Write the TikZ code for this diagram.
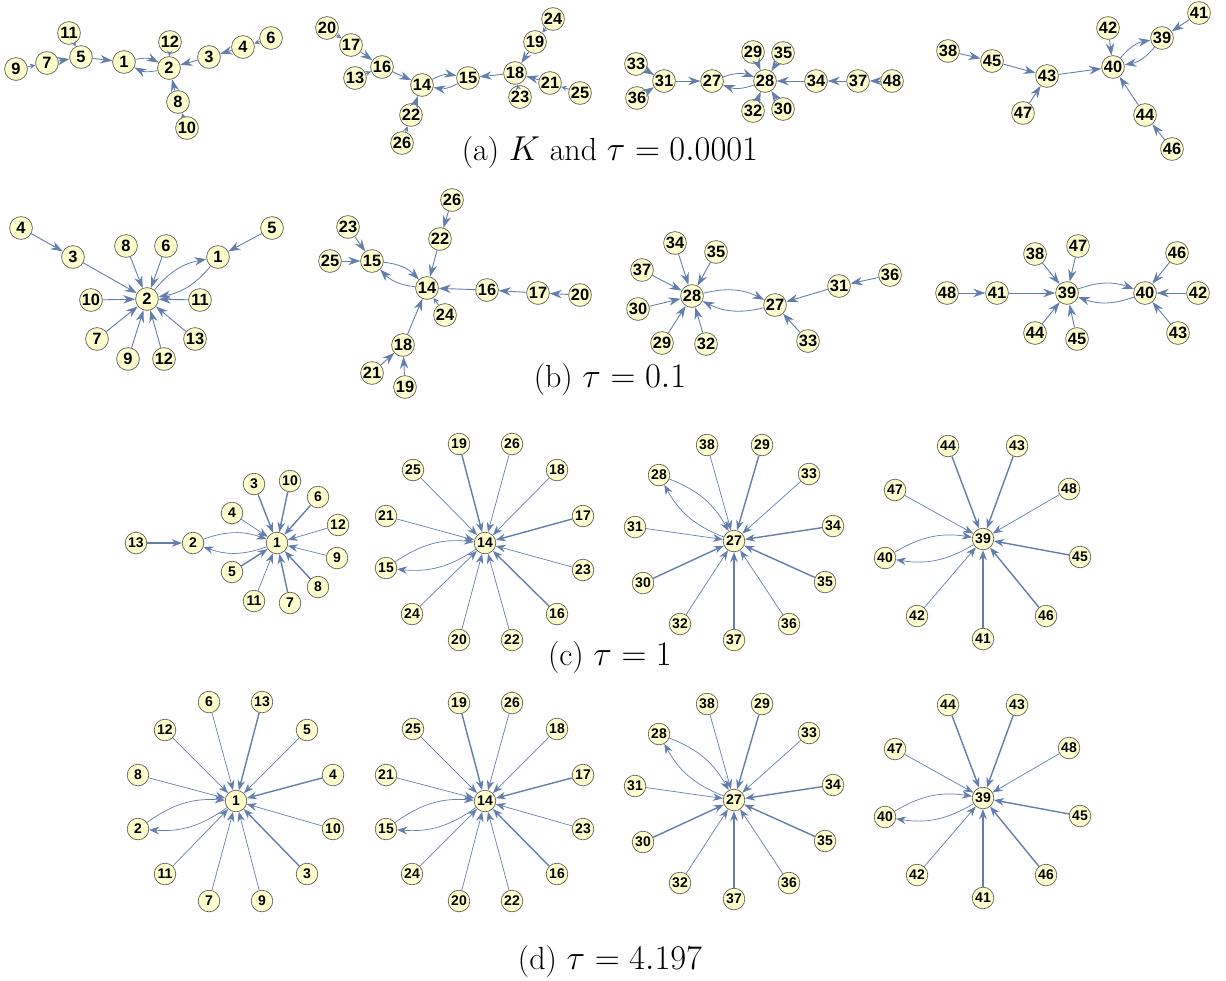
\documentclass[tikz,border=0pt]{standalone}
\usepackage{fontspec}
\newfontfamily\netfont{Liberation Sans}
\usetikzlibrary{arrows.meta}
\definecolor{NetFill}{RGB}{255,255,206}
\definecolor{NetRim}{RGB}{96,96,88}
\definecolor{NetEdge}{RGB}{98,126,174}
\tikzset{
  net/vertex/.style={
    circle,
    draw=NetRim,
    line width=0.35pt,
    fill=NetFill,
    inner sep=0pt,
    minimum size=11.4pt,
    font=\netfont\bfseries\fontsize{8.2}{8}\selectfont
  },
  net/smallvertex/.style={
    net/vertex,
    minimum size=10.8pt,
    font=\netfont\bfseries\fontsize{7}{7}\selectfont
  },
  net/edge/.style={-{Stealth[length=6pt,width=4.2pt]}, line width=0.45pt, draw=NetEdge},
  net/stub/.style={-{Stealth[length=2.8pt,width=2.6pt]}, line width=0.45pt, draw=NetEdge},
  net/thin/.style={-{Stealth[length=5pt,width=3.8pt]}, line width=0.35pt, draw=NetEdge},
  net/heavy/.style={net/thin, line width=0.7pt},
  net/pair/.style={net/edge, line width=0.4pt, bend left=20},
  net/smallpair/.style={net/thin, bend left=20},
  net/caption/.style={font=\fontsize{16}{19}\selectfont, align=center}
}

\begin{document}
\begin{tikzpicture}[x=0.5pt,y=-0.5pt]
  \useasboundingbox (0,0) rectangle (1226,980);

  % (a) K and tau = 0.0001
  \node[net/vertex] (a1) at (124,62) {1};
  \node[net/vertex] (a2) at (169,68) {2};
  \node[net/vertex] (a3) at (209,57) {3};
  \node[net/vertex] (a4) at (243,47) {4};
  \node[net/vertex] (a5) at (81,57) {5};
  \node[net/vertex] (a6) at (271,38) {6};
  \node[net/vertex] (a7) at (47,63) {7};
  \node[net/vertex] (a8) at (178,102) {8};
  \node[net/vertex] (a9) at (16,69) {9};
  \node[net/vertex] (a10) at (187,128) {10};
  \node[net/vertex] (a11) at (69,33) {11};
  \node[net/vertex] (a12) at (170,42) {12};
  \draw[net/stub] (a9) -- (a7);
  \draw[net/edge] (a7) -- (a5);
  \draw[net/stub] (a11) -- (a5);
  \draw[net/edge] (a5) -- (a1);
  \draw[net/pair] (a1) to (a2);
  \draw[net/pair] (a2) to (a1);
  \draw[net/stub] (a12) -- (a2);
  \draw[net/edge] (a3) -- (a2);
  \draw[net/edge] (a4) -- (a3);
  \draw[net/stub] (a6) -- (a4);
  \draw[net/edge] (a8) -- (a2);
  \draw[net/stub] (a10) -- (a8);

  \node[net/vertex] (a13) at (355,78) {13};
  \node[net/vertex] (a14) at (422,85) {14};
  \node[net/vertex] (a15) at (468,78) {15};
  \node[net/vertex] (a16) at (382,67) {16};
  \node[net/vertex] (a17) at (351,45) {17};
  \node[net/vertex] (a18) at (515,73) {18};
  \node[net/vertex] (a19) at (535,42) {19};
  \node[net/vertex] (a20) at (327,28) {20};
  \node[net/vertex] (a21) at (550,83) {21};
  \node[net/vertex] (a22) at (411,115) {22};
  \node[net/vertex] (a23) at (520,97) {23};
  \node[net/vertex] (a24) at (553,19) {24};
  \node[net/vertex] (a25) at (580,93) {25};
  \node[net/vertex] (a26) at (402,143) {26};
  \draw[net/stub] (a20) -- (a17);
  \draw[net/edge] (a17) -- (a16);
  \draw[net/stub] (a13) -- (a16);
  \draw[net/edge] (a16) -- (a14);
  \draw[net/pair] (a14) to (a15);
  \draw[net/pair] (a15) to (a14);
  \draw[net/edge] (a18) -- (a15);
  \draw[net/edge] (a19) -- (a18);
  \draw[net/stub] (a24) -- (a19);
  \draw[net/edge] (a21) -- (a18);
  \draw[net/stub] (a25) -- (a21);
  \draw[net/stub] (a23) -- (a18);
  \draw[net/edge] (a22) -- (a14);
  \draw[net/stub] (a26) -- (a22);

  \node[net/vertex] (a27) at (712,81) {27};
  \node[net/vertex] (a28) at (765,81) {28};
  \node[net/vertex] (a29) at (753,52) {29};
  \node[net/vertex] (a30) at (783,109) {30};
  \node[net/vertex] (a31) at (664,81) {31};
  \node[net/vertex] (a32) at (753,111) {32};
  \node[net/vertex] (a33) at (636,64) {33};
  \node[net/vertex] (a34) at (816,81) {34};
  \node[net/vertex] (a35) at (783,53) {35};
  \node[net/vertex] (a36) at (637,98) {36};
  \node[net/vertex] (a37) at (858,81) {37};
  \node[net/vertex] (a48) at (892,81) {48};
  \draw[net/edge] (a33) -- (a31);
  \draw[net/edge] (a36) -- (a31);
  \draw[net/edge] (a31) -- (a27);
  \draw[net/pair] (a27) to (a28);
  \draw[net/pair] (a28) to (a27);
  \foreach \s in {29,35,32,30,34}
    \draw[net/edge] (a\s) -- (a28);
  \draw[net/edge] (a37) -- (a34);
  \draw[net/edge] (a48) -- (a37);

  \node[net/vertex] (a38) at (948,51) {38};
  \node[net/vertex] (a39) at (1162,38) {39};
  \node[net/vertex] (a40) at (1113,67) {40};
  \node[net/vertex] (a41) at (1199,13) {41};
  \node[net/vertex] (a42) at (1108,28) {42};
  \node[net/vertex] (a43) at (1047,76) {43};
  \node[net/vertex] (a44) at (1145,115) {44};
  \node[net/vertex] (a45) at (992,61) {45};
  \node[net/vertex] (a46) at (1172,149) {46};
  \node[net/vertex] (a47) at (1023,113) {47};
  \draw[net/edge] (a41) -- (a39);
  \draw[net/pair] (a39) to (a40);
  \draw[net/pair] (a40) to (a39);
  \draw[net/edge] (a42) -- (a40);
  \draw[net/edge] (a38) -- (a45);
  \draw[net/edge] (a45) -- (a43);
  \draw[net/edge] (a47) -- (a43);
  \draw[net/edge] (a43) -- (a40);
  \draw[net/edge] (a44) -- (a40);
  \draw[net/edge] (a46) -- (a44);

  \node[net/caption] (capa) at (610,153) {(a) $K$ and $\tau = 0.0001$};

  % (b) tau = 0.1
  \node[net/vertex] (b1) at (218,257) {1};
  \node[net/vertex] (b2) at (147,299) {2};
  \node[net/vertex] (b3) at (73,257) {3};
  \node[net/vertex] (b4) at (21,228) {4};
  \node[net/vertex] (b5) at (272,228) {5};
  \node[net/vertex] (b6) at (166,246) {6};
  \node[net/vertex] (b7) at (97,339) {7};
  \node[net/vertex] (b8) at (126,246) {8};
  \node[net/vertex] (b9) at (128,359) {9};
  \node[net/vertex] (b10) at (91,300) {10};
  \node[net/vertex] (b11) at (200,300) {11};
  \node[net/vertex] (b12) at (164,359) {12};
  \node[net/vertex] (b13) at (195,339) {13};
  \draw[net/edge] (b4) -- (b3);
  \foreach \s in {3,8,6,10,11,7,9,12,13}
    \draw[net/edge] (b\s) -- (b2);
  \draw[net/pair] (b2) to (b1);
  \draw[net/pair] (b1) to (b2);
  \draw[net/edge] (b5) -- (b1);

  \node[net/vertex] (b14) at (427,288) {14};
  \node[net/vertex] (b15) at (372,261) {15};
  \node[net/vertex] (b16) at (487,290) {16};
  \node[net/vertex] (b17) at (538,293) {17};
  \node[net/vertex] (b18) at (403,345) {18};
  \node[net/vertex] (b19) at (405,387) {19};
  \node[net/vertex] (b20) at (580,295) {20};
  \node[net/vertex] (b21) at (372,373) {21};
  \node[net/vertex] (b22) at (440,239) {22};
  \node[net/vertex] (b23) at (348,227) {23};
  \node[net/vertex] (b24) at (445,315) {24};
  \node[net/vertex] (b25) at (330,261) {25};
  \node[net/vertex] (b26) at (452,200) {26};
  \draw[net/edge] (b26) -- (b22);
  \draw[net/edge] (b22) -- (b14);
  \draw[net/edge] (b23) -- (b15);
  \draw[net/edge] (b25) -- (b15);
  \draw[net/pair] (b15) to (b14);
  \draw[net/pair] (b14) to (b15);
  \draw[net/edge] (b16) -- (b14);
  \draw[net/edge] (b17) -- (b16);
  \draw[net/edge] (b20) -- (b17);
  \draw[net/stub] (b24) -- (b14);
  \draw[net/edge] (b18) -- (b14);
  \draw[net/edge] (b21) -- (b18);
  \draw[net/edge] (b19) -- (b18);

  \node[net/vertex] (b27) at (775,305) {27};
  \node[net/vertex] (b28) at (692,296) {28};
  \node[net/vertex] (b29) at (662,343) {29};
  \node[net/vertex] (b30) at (638,309) {30};
  \node[net/vertex] (b31) at (839,286) {31};
  \node[net/vertex] (b32) at (706,344) {32};
  \node[net/vertex] (b33) at (808,341) {33};
  \node[net/vertex] (b34) at (675,243) {34};
  \node[net/vertex] (b35) at (716,252) {35};
  \node[net/vertex] (b36) at (890,275) {36};
  \node[net/vertex] (b37) at (642,270) {37};
  \foreach \s in {34,35,37,30,29,32}
    \draw[net/edge] (b\s) -- (b28);
  \draw[net/pair] (b28) to (b27);
  \draw[net/pair] (b27) to (b28);
  \draw[net/edge] (b31) -- (b27);
  \draw[net/edge] (b36) -- (b31);
  \draw[net/edge] (b33) -- (b27);

  \node[net/vertex] (b38) at (1035,254) {38};
  \node[net/vertex] (b39) at (1067,293) {39};
  \node[net/vertex] (b40) at (1145,293) {40};
  \node[net/vertex] (b41) at (997,293) {41};
  \node[net/vertex] (b42) at (1198,293) {42};
  \node[net/vertex] (b43) at (1178,333) {43};
  \node[net/vertex] (b44) at (1035,333) {44};
  \node[net/vertex] (b45) at (1077,339) {45};
  \node[net/vertex] (b46) at (1177,253) {46};
  \node[net/vertex] (b47) at (1078,246) {47};
  \node[net/vertex] (b48) at (947,293) {48};
  \draw[net/edge] (b48) -- (b41);
  \foreach \s in {41,38,47,44,45}
    \draw[net/edge] (b\s) -- (b39);
  \draw[net/pair] (b39) to (b40);
  \draw[net/pair] (b40) to (b39);
  \foreach \s in {46,42,43}
    \draw[net/edge] (b\s) -- (b40);

  \node[net/caption] (capb) at (610,380) {(b) $\tau = 0.1$};

  % (c) tau = 1
  \node[net/smallvertex] (c1) at (277,543) {1};
  \node[net/smallvertex] (c2) at (193,543) {2};
  \node[net/smallvertex] (c3) at (254,484) {3};
  \node[net/smallvertex] (c4) at (232,513) {4};
  \node[net/smallvertex] (c5) at (232,572) {5};
  \node[net/smallvertex] (c6) at (318,497) {6};
  \node[net/smallvertex] (c7) at (290,603) {7};
  \node[net/smallvertex] (c8) at (318,587) {8};
  \node[net/smallvertex] (c9) at (337,558) {9};
  \node[net/smallvertex] (c10) at (290,481) {10};
  \node[net/smallvertex] (c11) at (254,601) {11};
  \node[net/smallvertex] (c12) at (338,525) {12};
  \node[net/smallvertex] (c13) at (136,543) {13};
  \draw[net/heavy] (c13) -- (c2);
  \draw[net/smallpair] (c2) to (c1);
  \draw[net/smallpair] (c1) to (c2);
  \foreach \s in {3,10,6,8,5,7}
    \draw[net/heavy] (c\s) -- (c1);
  \foreach \s in {4,12,9,11}
    \draw[net/thin] (c\s) -- (c1);

  \node[net/smallvertex] (c14) at (485,543) {14};
  \node[net/smallvertex] (c15) at (386,568) {15};
  \node[net/smallvertex] (c16) at (557,614) {16};
  \node[net/smallvertex] (c17) at (583,516) {17};
  \node[net/smallvertex] (c18) at (557,470) {18};
  \node[net/smallvertex] (c19) at (459,444) {19};
  \node[net/smallvertex] (c20) at (459,640) {20};
  \node[net/smallvertex] (c21) at (386,516) {21};
  \node[net/smallvertex] (c22) at (512,640) {22};
  \node[net/smallvertex] (c23) at (583,570) {23};
  \node[net/smallvertex] (c24) at (412,614) {24};
  \node[net/smallvertex] (c25) at (413,470) {25};
  \node[net/smallvertex] (c26) at (512,444) {26};
  \foreach \s in {19,17,16}
    \draw[net/heavy] (c\s) -- (c14);
  \foreach \s in {26,25,18,21,23,24,20,22}
    \draw[net/thin] (c\s) -- (c14);
  \draw[net/smallpair] (c15) to (c14);
  \draw[net/smallpair] (c14) to (c15);

  \node[net/smallvertex] (c27) at (734,541) {27};
  \node[net/smallvertex] (c28) at (659,475) {28};
  \node[net/smallvertex] (c29) at (762,445) {29};
  \node[net/smallvertex] (c30) at (643,583) {30};
  \node[net/smallvertex] (c31) at (635,527) {31};
  \node[net/smallvertex] (c32) at (680,624) {32};
  \node[net/smallvertex] (c33) at (809,474) {33};
  \node[net/smallvertex] (c34) at (833,526) {34};
  \node[net/smallvertex] (c35) at (825,582) {35};
  \node[net/smallvertex] (c36) at (789,624) {36};
  \node[net/smallvertex] (c37) at (734,640) {37};
  \node[net/smallvertex] (c38) at (707,445) {38};
  \foreach \s in {29,34,30,35,37}
    \draw[net/heavy] (c\s) -- (c27);
  \foreach \s in {38,33,31,32,36}
    \draw[net/thin] (c\s) -- (c27);
  \draw[net/smallpair] (c28) to (c27);
  \draw[net/smallpair] (c27) to (c28);

  \node[net/smallvertex] (c39) at (983,539) {39};
  \node[net/smallvertex] (c40) at (885,558) {40};
  \node[net/smallvertex] (c41) at (983,639) {41};
  \node[net/smallvertex] (c42) at (917,616) {42};
  \node[net/smallvertex] (c43) at (1017,446) {43};
  \node[net/smallvertex] (c44) at (948,446) {44};
  \node[net/smallvertex] (c45) at (1080,557) {45};
  \node[net/smallvertex] (c46) at (1046,616) {46};
  \node[net/smallvertex] (c47) at (895,490) {47};
  \node[net/smallvertex] (c48) at (1069,489) {48};
  \foreach \s in {44,43,45,46,41}
    \draw[net/heavy] (c\s) -- (c39);
  \foreach \s in {47,48,42}
    \draw[net/thin] (c\s) -- (c39);
  \draw[net/smallpair] (c40) to (c39);
  \draw[net/smallpair] (c39) to (c40);

  \node[net/caption] (capc) at (610,658) {(c) $\tau = 1$};

  % (d) tau = 4.197
  \node[net/smallvertex] (d1) at (236,801) {1};
  \node[net/smallvertex] (d2) at (138,829) {2};
  \node[net/smallvertex] (d3) at (307,874) {3};
  \node[net/smallvertex] (d4) at (333,775) {4};
  \node[net/smallvertex] (d5) at (307,730) {5};
  \node[net/smallvertex] (d6) at (209,702) {6};
  \node[net/smallvertex] (d7) at (209,901) {7};
  \node[net/smallvertex] (d8) at (138,775) {8};
  \node[net/smallvertex] (d9) at (262,901) {9};
  \node[net/smallvertex] (d10) at (333,829) {10};
  \node[net/smallvertex] (d11) at (165,874) {11};
  \node[net/smallvertex] (d12) at (165,730) {12};
  \node[net/smallvertex] (d13) at (262,702) {13};
  \foreach \s in {3,13,4}
    \draw[net/heavy] (d\s) -- (d1);
  \foreach \s in {6,12,5,8,10,11,7,9}
    \draw[net/thin] (d\s) -- (d1);
  \draw[net/smallpair] (d2) to (d1);
  \draw[net/smallpair] (d1) to (d2);

  \node[net/smallvertex] (d14) at (485,801) {14};
  \node[net/smallvertex] (d15) at (386,829) {15};
  \node[net/smallvertex] (d16) at (557,874) {16};
  \node[net/smallvertex] (d17) at (583,775) {17};
  \node[net/smallvertex] (d18) at (557,729) {18};
  \node[net/smallvertex] (d19) at (459,703) {19};
  \node[net/smallvertex] (d20) at (459,901) {20};
  \node[net/smallvertex] (d21) at (386,775) {21};
  \node[net/smallvertex] (d22) at (512,901) {22};
  \node[net/smallvertex] (d23) at (583,829) {23};
  \node[net/smallvertex] (d24) at (412,874) {24};
  \node[net/smallvertex] (d25) at (413,729) {25};
  \node[net/smallvertex] (d26) at (512,703) {26};
  \foreach \s in {19,17,16}
    \draw[net/heavy] (d\s) -- (d14);
  \foreach \s in {26,25,18,21,23,24,20,22}
    \draw[net/thin] (d\s) -- (d14);
  \draw[net/smallpair] (d15) to (d14);
  \draw[net/smallpair] (d14) to (d15);

  \node[net/smallvertex] (d27) at (734,800) {27};
  \node[net/smallvertex] (d28) at (659,734) {28};
  \node[net/smallvertex] (d29) at (762,704) {29};
  \node[net/smallvertex] (d30) at (643,842) {30};
  \node[net/smallvertex] (d31) at (635,786) {31};
  \node[net/smallvertex] (d32) at (680,883) {32};
  \node[net/smallvertex] (d33) at (809,733) {33};
  \node[net/smallvertex] (d34) at (833,785) {34};
  \node[net/smallvertex] (d35) at (825,841) {35};
  \node[net/smallvertex] (d36) at (789,883) {36};
  \node[net/smallvertex] (d37) at (734,899) {37};
  \node[net/smallvertex] (d38) at (707,704) {38};
  \foreach \s in {29,34,30,35,37}
    \draw[net/heavy] (d\s) -- (d27);
  \foreach \s in {38,33,31,32,36}
    \draw[net/thin] (d\s) -- (d27);
  \draw[net/smallpair] (d28) to (d27);
  \draw[net/smallpair] (d27) to (d28);

  \node[net/smallvertex] (d39) at (983,798) {39};
  \node[net/smallvertex] (d40) at (885,817) {40};
  \node[net/smallvertex] (d41) at (983,898) {41};
  \node[net/smallvertex] (d42) at (917,875) {42};
  \node[net/smallvertex] (d43) at (1017,705) {43};
  \node[net/smallvertex] (d44) at (948,705) {44};
  \node[net/smallvertex] (d45) at (1080,816) {45};
  \node[net/smallvertex] (d46) at (1046,875) {46};
  \node[net/smallvertex] (d47) at (895,749) {47};
  \node[net/smallvertex] (d48) at (1069,748) {48};
  \foreach \s in {44,43,45,46,41}
    \draw[net/heavy] (d\s) -- (d39);
  \foreach \s in {47,48,42}
    \draw[net/thin] (d\s) -- (d39);
  \draw[net/smallpair] (d40) to (d39);
  \draw[net/smallpair] (d39) to (d40);

  \node[net/caption] (capd) at (610,962) {(d) $\tau = 4.197$};
\end{tikzpicture}
\end{document}
